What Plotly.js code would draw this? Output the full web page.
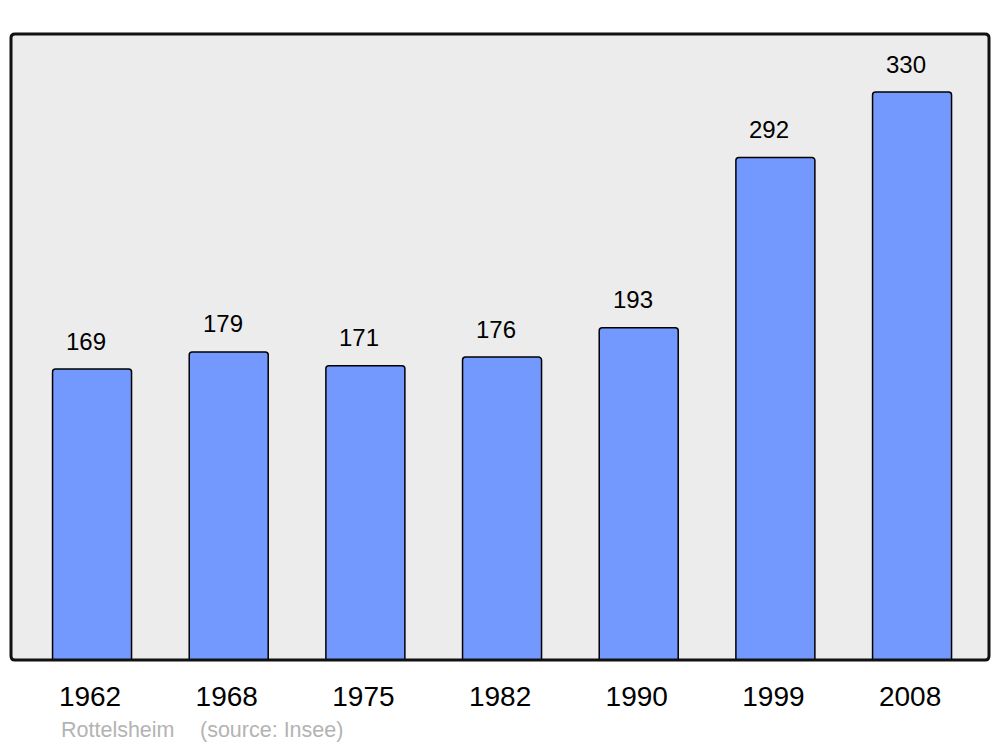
<!DOCTYPE html>
<html><head><meta charset="utf-8">
<script src="https://cdn.plot.ly/plotly-3.0.1.min.js"></script>
<style>html,body{margin:0;padding:0;background:#fff}</style>
</head><body><div id="chart" style="width:1000px;height:747px"></div>
<script>
const years = ["1962","1968","1975","1982","1990","1999","2008"];
const population = [169,179,171,176,193,292,330];
const commune = "Rottelsheim";
const source = "(source: Insee)";

const W = 1000, H = 747;
const m = {l:11, r:11, t:34, b:87};
const pw = W - m.l - m.r, ph = H - m.t - m.b;
const rx = 4/pw, ry = 4/ph;
const framePath = `M ${rx},0 L ${1-rx},0 Q 1,0 1,${ry} L 1,${1-ry} Q 1,1 ${1-rx},1 L ${rx},1 Q 0,1 0,${1-ry} L 0,${ry} Q 0,0 ${rx},0 Z`;
const font = '"Liberation Sans", Arial, sans-serif';

const annotations = years.map((y,i)=>({
  x: i, y: population[i], xref:'x', yref:'y', text: String(population[i]),
  showarrow:false, yanchor:'middle', xanchor:'center', yshift:28, xshift:-6,
  font:{family:font, size:24, color:'#000'}
}));
annotations.push({xref:'paper', yref:'paper', x:(59-m.l)/pw, y:-(730-660)/ph, xanchor:'left', yanchor:'middle',
  text: commune, showarrow:false, font:{family:font, size:21.5, color:'#b3b3b3'}});
annotations.push({xref:'paper', yref:'paper', x:(198-m.l)/pw, y:-(730-660)/ph, xanchor:'left', yanchor:'middle',
  text: source, showarrow:false, font:{family:font, size:21.5, color:'#b3b3b3'}});

Plotly.newPlot('chart', [{
  type:'bar', x: years, y: population, width:0.578,
  marker:{color:'#7399ff', line:{color:'#000', width:1.5}, cornerradius:3},
  hoverinfo:'skip'
}], {
  width: W, height: H, margin: m,
  paper_bgcolor:'#ffffff', plot_bgcolor:'#ececec',
  showlegend:false,
  xaxis:{type:'category', range:[-0.593, 6.563], showgrid:false, zeroline:false, showline:false,
    ticks:'', ticklabelstandoff:17, ticklabelshift:-2,
    tickfont:{family:font, size:28, color:'#000'}, fixedrange:true},
  yaxis:{range:[0, 363.7], showgrid:false, zeroline:false, showline:false, showticklabels:false, ticks:'', fixedrange:true},
  shapes:[{type:'path', xref:'paper', yref:'paper', path: framePath, line:{color:'#111', width:3}, layer:'above'}],
  annotations: annotations
}, {staticPlot:true});
</script></body></html>
